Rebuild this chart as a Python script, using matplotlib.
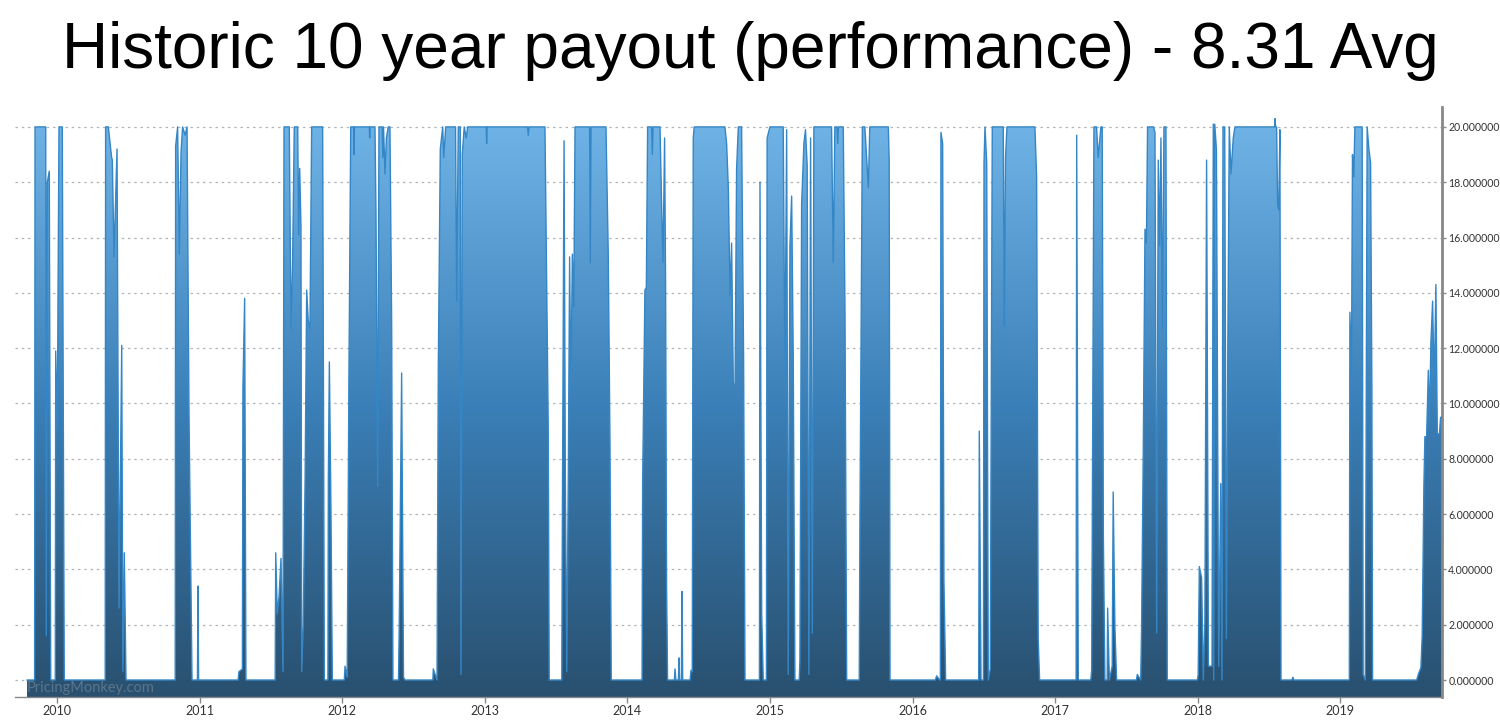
import numpy as np
import matplotlib
matplotlib.use("Agg")
import matplotlib.pyplot as plt
from matplotlib.colors import LinearSegmentedColormap
from matplotlib.patches import Polygon
from matplotlib.ticker import FormatStrFormatter

# payout: (decimal year, value)
pay_points = [
    (2009.790, 0), (2009.843, 0), (2009.846, 20), (2009.921, 20), (2009.925, 1.6), (2009.932, 18.0),
    (2009.946, 18.4), (2009.956, 0),
    (2009.988, 0), (2009.991, 11.9), (2010.002, 9.1), (2010.014, 20), (2010.037, 20), (2010.051, 0),
    (2010.338, 0), (2010.341, 20), (2010.360, 20), (2010.383, 18.9), (2010.388, 18.8), (2010.400, 15.3),
    (2010.421, 19.2), (2010.435, 2.6), (2010.454, 12.1), (2010.462, 0.3), (2010.472, 4.6), (2010.484, 0),
    (2010.829, 0), (2010.832, 19.3), (2010.846, 20), (2010.858, 15.4), (2010.870, 19.1), (2010.881, 20),
    (2010.898, 19.7), (2010.912, 20), (2010.926, 9.5), (2010.938, 4.1), (2010.947, 0),
    (2010.985, 0), (2010.989, 3.4), (2010.993, 0),
    (2011.270, 0), (2011.276, 0.3), (2011.300, 0.4), (2011.304, 10.6), (2011.316, 13.8), (2011.325, 0),
    (2011.530, 0), (2011.534, 4.6), (2011.545, 2.4), (2011.557, 3.0), (2011.571, 4.4), (2011.585, 0.3),
    (2011.592, 20), (2011.629, 20), (2011.641, 12.7), (2011.652, 15.0), (2011.664, 20), (2011.688, 20),
    (2011.695, 16.1), (2011.702, 18.5), (2011.711, 16.4), (2011.716, 0.3), (2011.727, 2.0), (2011.740, 7.3),
    (2011.751, 14.1), (2011.762, 13.0), (2011.774, 12.7), (2011.786, 20), (2011.863, 20), (2011.875, 0),
    (2011.900, 0), (2011.903, 7.3), (2011.910, 11.5), (2011.921, 6.3), (2011.931, 0),
    (2012.015, 0), (2012.020, 0.5), (2012.035, 0.1), (2012.048, 11.6), (2012.060, 20), (2012.080, 20),
    (2012.083, 19.0), (2012.086, 20), (2012.190, 20), (2012.193, 19.6), (2012.196, 20), (2012.230, 20),
    (2012.237, 16.9), (2012.249, 7.0), (2012.258, 20), (2012.280, 20), (2012.285, 18.9), (2012.290, 20),
    (2012.300, 18.3), (2012.310, 19.6), (2012.323, 20), (2012.335, 20), (2012.347, 12.9), (2012.356, 0),
    (2012.395, 0), (2012.400, 1.9), (2012.417, 11.1), (2012.430, 0.1), (2012.440, 0),
    (2012.636, 0), (2012.639, 0.4), (2012.665, 0), (2012.674, 11.3), (2012.688, 19.2), (2012.705, 20),
    (2012.712, 18.9), (2012.726, 20), (2012.795, 20), (2012.803, 13.7), (2012.814, 20), (2012.828, 20),
    (2012.833, 0.2), (2012.842, 19.0), (2012.856, 20), (2012.870, 19.6), (2012.880, 20), (2013.010, 20),
    (2013.013, 19.4), (2013.016, 20), (2013.300, 20), (2013.305, 19.7), (2013.310, 20), (2013.422, 20),
    (2013.434, 14.5), (2013.445, 9.2), (2013.452, 0),
    (2013.540, 0), (2013.544, 5.7), (2013.556, 19.5), (2013.565, 7.3), (2013.575, 0.3), (2013.586, 7.6),
    (2013.595, 15.3), (2013.604, 10.4), (2013.614, 15.4), (2013.624, 13.5), (2013.633, 20), (2013.735, 20),
    (2013.740, 15.1), (2013.745, 20), (2013.850, 20), (2013.866, 15.4), (2013.878, 8.6), (2013.887, 0),
    (2014.103, 0), (2014.107, 7.1), (2014.123, 14.1), (2014.133, 14.2), (2014.142, 20), (2014.170, 20),
    (2014.175, 19.0), (2014.180, 20), (2014.229, 20), (2014.240, 17.2), (2014.250, 15.1), (2014.261, 19.6),
    (2014.268, 14.3), (2014.275, 3.4), (2014.282, 0),
    (2014.330, 0), (2014.334, 0.4), (2014.340, 0), (2014.358, 0), (2014.362, 0.8), (2014.366, 0),
    (2014.379, 0), (2014.383, 3.2), (2014.388, 0), (2014.440, 0), (2014.446, 0.35),
    (2014.455, 0.3), (2014.462, 19.6), (2014.469, 20), (2014.684, 20), (2014.696, 19.4), (2014.708, 17.8),
    (2014.720, 13.9), (2014.731, 15.8), (2014.743, 10.7), (2014.755, 10.7), (2014.766, 18.5), (2014.778, 20),
    (2014.801, 20), (2014.815, 11.7), (2014.825, 0),
    (2014.926, 0), (2014.930, 18.0), (2014.942, 2.4), (2014.953, 0),
    (2014.975, 0), (2014.980, 19.6), (2015.000, 20), (2015.093, 20), (2015.105, 10.9), (2015.117, 19.9),
    (2015.128, 0.2), (2015.140, 15.7), (2015.152, 17.5), (2015.163, 11.8), (2015.175, 0), (2015.205, 0),
    (2015.210, 0.7), (2015.222, 17.2), (2015.238, 19.4), (2015.249, 19.9), (2015.261, 18.6), (2015.273, 0.2),
    (2015.285, 19.6), (2015.297, 1.7), (2015.308, 20), (2015.432, 20), (2015.444, 15.1), (2015.455, 20),
    (2015.470, 20), (2015.475, 19.4), (2015.480, 20), (2015.514, 20), (2015.526, 13.4), (2015.538, 0),
    (2015.626, 0), (2015.631, 5.8), (2015.648, 20), (2015.665, 20), (2015.670, 19.6), (2015.690, 17.8),
    (2015.700, 20), (2015.830, 20), (2015.836, 18.8), (2015.842, 0),
    (2016.160, 0), (2016.169, 0.15), (2016.190, 0), (2016.195, 0), (2016.199, 19.8), (2016.211, 19.4),
    (2016.220, 3.6), (2016.232, 0),
    (2016.464, 0), (2016.468, 9.0), (2016.480, 0), (2016.497, 0), (2016.501, 18.7), (2016.508, 20),
    (2016.520, 18.7), (2016.531, 0), (2016.545, 0.4), (2016.559, 20), (2016.636, 20), (2016.643, 12.8),
    (2016.652, 18.9), (2016.662, 20), (2016.858, 20), (2016.870, 18.2), (2016.881, 1.5), (2016.891, 0),
    (2017.147, 0), (2017.151, 19.7), (2017.162, 0),
    (2017.250, 0), (2017.256, 0.35), (2017.272, 20), (2017.290, 20), (2017.302, 18.9), (2017.321, 20),
    (2017.330, 20), (2017.338, 5.2), (2017.349, 0), (2017.365, 0), (2017.368, 2.6), (2017.380, 0),
    (2017.400, 0.5), (2017.407, 6.8), (2017.419, 1.9), (2017.431, 0),
    (2017.570, 0), (2017.576, 0.2), (2017.600, 0), (2017.606, 1.9), (2017.618, 8.4), (2017.630, 16.3),
    (2017.640, 15.8), (2017.648, 20), (2017.690, 20), (2017.700, 19.8), (2017.712, 1.7), (2017.723, 18.8),
    (2017.733, 15.7), (2017.742, 19.6), (2017.752, 12.7), (2017.763, 20), (2017.777, 20), (2017.786, 0),
    (2017.998, 0), (2018.003, 0.2), (2018.011, 4.1), (2018.027, 3.7), (2018.039, 0), (2018.050, 2.1),
    (2018.062, 18.8), (2018.075, 0.5), (2018.100, 0.5), (2018.109, 20.1), (2018.112, 0), (2018.119, 20.1),
    (2018.131, 19.2), (2018.147, 0.5), (2018.161, 7.1), (2018.170, 0), (2018.177, 20), (2018.189, 20),
    (2018.201, 1.5), (2018.211, 12.1), (2018.221, 20), (2018.233, 18.3), (2018.249, 19.6), (2018.261, 20),
    (2018.540, 20), (2018.542, 20.3), (2018.546, 20), (2018.553, 20), (2018.560, 17.2), (2018.568, 17.0),
    (2018.576, 19.9), (2018.584, 0),
    (2018.660, 0), (2018.667, 0.1), (2018.674, 0),
    (2019.063, 0), (2019.067, 13.3), (2019.078, 11.1), (2019.085, 19.0), (2019.094, 18.2), (2019.102, 20),
    (2019.153, 20), (2019.160, 0.2), (2019.175, 0), (2019.188, 20), (2019.200, 19.2), (2019.212, 18.7),
    (2019.221, 10.7), (2019.226, 0),
    (2019.535, 0), (2019.550, 0.25), (2019.565, 0.45), (2019.574, 1.6), (2019.586, 7.1), (2019.593, 8.8),
    (2019.605, 8.8), (2019.617, 11.2), (2019.625, 9.3), (2019.635, 12.2), (2019.647, 13.7), (2019.658, 10.5),
    (2019.670, 14.3), (2019.680, 8.9), (2019.695, 8.9), (2019.703, 9.5), (2019.712, 9.5),
]
years = [2010, 2011, 2012, 2013, 2014, 2015, 2016, 2017, 2018, 2019]
y_ticks = [0, 2, 4, 6, 8, 10, 12, 14, 16, 18, 20]
title = "Historic 10 year payout (performance) - 8.31 Avg"

pay_x = np.array([p[0] for p in pay_points])
pay_y = np.array([p[1] for p in pay_points])

fig = plt.figure(figsize=(15, 7.22), dpi=100)
ax = fig.add_axes([0.01, 0.0346, 0.9513, 0.8172])

x_lo, x_hi = 2009.7055, 2019.7125
y_lo, y_hi = -0.615, 20.72

# gradient fill under the line
poly_xy = np.vstack([np.column_stack([pay_x, pay_y]),
                     [[pay_x[-1], y_lo], [pay_x[0], y_lo]]])
poly = Polygon(poly_xy, closed=True, facecolor="none", edgecolor="none")
ax.add_patch(poly)
cmap = LinearSegmentedColormap.from_list("pm", ["#29506f", "#3a7fb7", "#70b4e7"])
grad = np.linspace(0, 1, 256).reshape(-1, 1)
im = ax.imshow(grad, extent=[x_lo, x_hi, y_lo, 20.3], origin="lower", aspect="auto",
               cmap=cmap, zorder=2, interpolation="bilinear")
im.set_clip_path(poly)
ax.plot(pay_x, pay_y, color="#3486c6", lw=1.0, zorder=3)

ax.set_xlim(x_lo, x_hi)
ax.set_ylim(y_lo, y_hi)

ax.yaxis.tick_right()
ax.set_yticks(y_ticks)
ax.yaxis.set_major_formatter(FormatStrFormatter("%.6f"))
ax.set_xticks(years)
ax.set_xticklabels([str(y) for y in years])
ax.tick_params(axis="both", colors="#888888", labelcolor="#333333", labelsize=9, length=4, width=1)
ax.tick_params(axis="y", pad=1.5, labelsize=7.6, length=3)
ax.tick_params(axis="x", pad=2)
for lab in ax.get_xticklabels() + ax.get_yticklabels():
    lab.set_family("Lato")

ax.yaxis.grid(True, linestyle=(0, (2, 3)), color="#b5b5b5", lw=0.9)
ax.set_axisbelow(True)
for s in ["top", "left"]:
    ax.spines[s].set_visible(False)
ax.spines["right"].set_color("#888888")
ax.spines["right"].set_linewidth(2)
ax.spines["bottom"].set_color("#888888")
ax.spines["bottom"].set_linewidth(1)

ax.text(2009.785, -0.3, "PricingMonkey.com", fontsize=10.5, family="Lato", color="#9aa0a6",
        alpha=0.45, va="center", ha="left", zorder=4)

fig.text(0.5, 0.93, title, ha="center", va="center", fontsize=46,
         family="Liberation Sans", color="black")

fig.savefig("out.png", dpi=100)
